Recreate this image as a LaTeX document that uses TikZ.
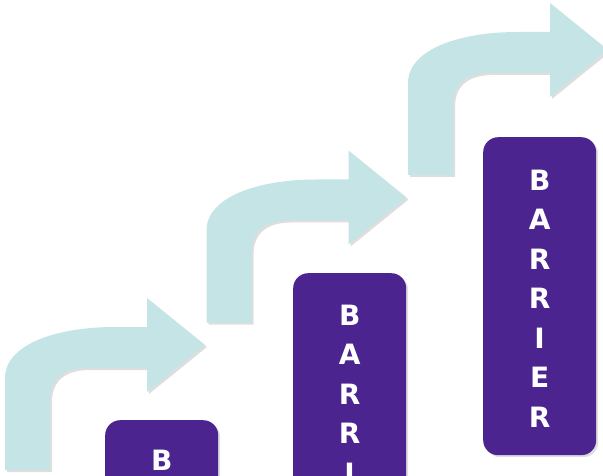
\documentclass[tikz,border=0pt]{standalone}
\usepackage{fontspec}
\newfontfamily\barfont{DejaVu Sans}
\usetikzlibrary{shadows,calc}
\definecolor{arrowcol}{RGB}{197,228,230}
\definecolor{barcol}{RGB}{75,36,144}
\tikzset{
  softshadow/.style={drop shadow={shadow xshift=2pt, shadow yshift=-2pt, fill=black, opacity=0.13}},
  arrowshape/.style={fill=arrowcol, draw=none, softshadow},
  barrierbox/.style={fill=barcol, draw=none, rounded corners=15pt, minimum width=113pt, minimum height=318pt, inner sep=0pt, softshadow},
  letterlabel/.style={text=white, font=\barfont\bfseries\fontsize{28}{28}\selectfont, inner sep=0pt}
}
\begin{document}
\begin{tikzpicture}[x=1pt,y=-1pt]
\useasboundingbox (0,0) rectangle (603,476);
\fill[white] (0,0) rectangle (603,476);
\begin{scope}
\clip (0,0) rectangle (603,476);
\foreach \k in {0,1,2} {
  \begin{scope}[shift={(201.5*\k,-147.5*\k)}]
    \fill[arrowshape] (5,470) -- (5,378) .. controls (5,345) and (55,327) .. (115,327)
      -- (147,327) -- (147,298) -- (205,345) -- (147,392) -- (147,368) -- (88,368)
      .. controls (62,368) and (50,380) .. (50,400) -- (50,470) -- cycle;
  \end{scope}
}
\node[barrierbox, anchor=north west] (box1) at (105,420) {};
\node[barrierbox, anchor=north west] (box2) at (293,273) {};
\node[barrierbox, anchor=north west] (box3) at (483,137) {};
\node[letterlabel] (bOne0) at ($(box1.north)+(0,40)$) {B};
\foreach \ch [count=\i from 0] in {B,A,R,R,I} {
  \node[letterlabel] (bTwo\i) at ($(box2.north)+(0,42+39.5*\i)$) {\ch};
}
\foreach \ch [count=\i from 0] in {B,A,R,R,I,E,R} {
  \node[letterlabel] (bThree\i) at ($(box3.north)+(0,43+39.5*\i)$) {\ch};
}
\end{scope}
\end{tikzpicture}
\end{document}
